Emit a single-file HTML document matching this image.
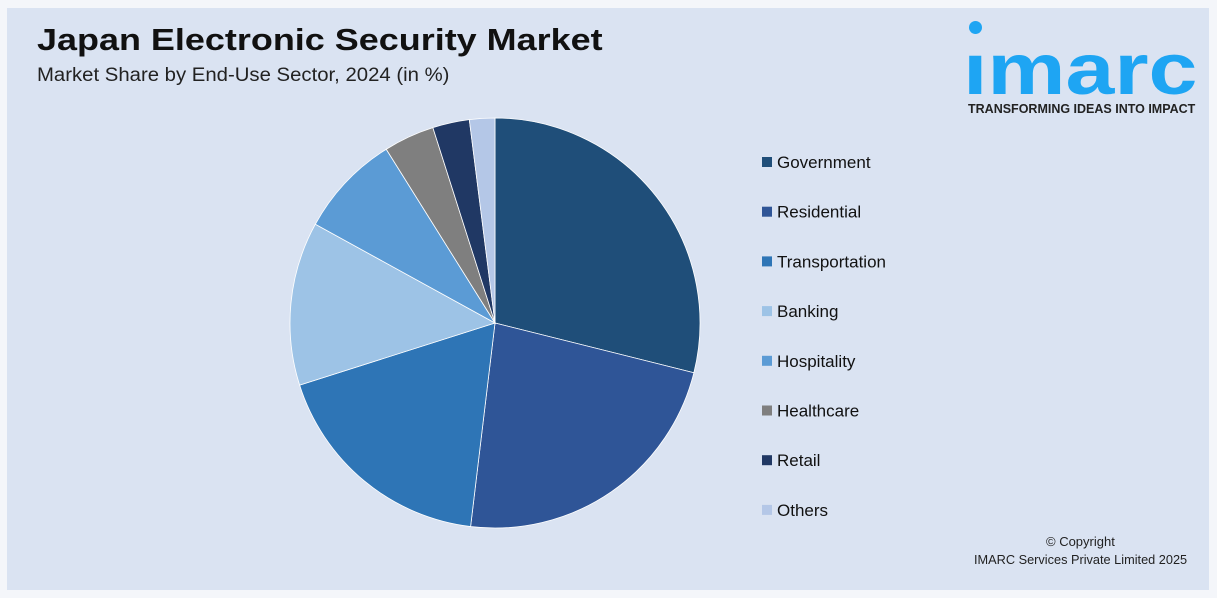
<!DOCTYPE html>
<html><head><meta charset="utf-8"><style>
body{margin:0;width:1217px;height:598px;background:#f4f6fa;font-family:"Liberation Sans",sans-serif;overflow:hidden}
#panel{position:absolute;left:7px;top:8px;width:1202px;height:582px;background:#dae3f2}
.t{position:absolute;color:#111;white-space:nowrap;transform-origin:0 0}
</style></head><body>
<div id="panel"></div>
<div class="t" style="left:37px;top:22px;font-size:31px;font-weight:bold;transform:scaleX(1.16)">Japan Electronic Security Market</div>
<div class="t" style="left:37px;top:65px;font-size:19px;color:#222;transform:scaleX(1.07)">Market Share by End-Use Sector, 2024 (in %)</div>
<div style="position:absolute;left:965px;top:16px;width:230px;height:105px">
<div style="position:absolute;left:4px;top:5px;width:13px;height:13px;border-radius:50%;background:#1ea5f3"></div>
<div style="position:absolute;left:-2px;top:22px;font-size:72px;font-weight:bold;color:#1ea5f3;line-height:64px;transform:scaleX(1.22);transform-origin:0 0">ımarc</div>
<div style="position:absolute;left:3px;top:86px;font-size:12.5px;font-weight:bold;color:#222;white-space:nowrap">TRANSFORMING IDEAS INTO IMPACT</div>
</div>
<svg id="pie" width="1217" height="598" style="position:absolute;left:0;top:0"></svg>
<div class="t" style="left:1046px;top:534px;font-size:13px;color:#222">© Copyright</div>
<div class="t" style="left:974px;top:552px;font-size:13px;color:#222;transform:scaleX(0.98)">IMARC Services Private Limited 2025</div>
<script>
const categories=["Government","Residential","Transportation","Banking","Hospitality","Healthcare","Retail","Others"];
const shares=[28.9,23.0,18.2,12.9,8.1,4.0,2.9,2.0];
const colors=["#1f4e79","#2f5597","#2e75b6","#9dc3e6","#5b9bd5","#7f7f7f","#203864","#b4c7e7"];
const NS="http://www.w3.org/2000/svg";
const svg=document.getElementById('pie');
const cx=495,cy=323,r=205;
const total=shares.reduce((a,b)=>a+b,0);
let acc=0;
function pt(f){const a=f*2*Math.PI;return [cx+r*Math.sin(a),cy-r*Math.cos(a)];}
shares.forEach((v,i)=>{
 const f0=acc/total,f1=(acc+v)/total;acc+=v;
 const [x0,y0]=pt(f0),[x1,y1]=pt(f1);
 const p=document.createElementNS(NS,'path');
 p.setAttribute('d',`M${cx},${cy}L${x0},${y0}A${r},${r} 0 ${f1-f0>0.5?1:0} 1 ${x1},${y1}Z`);
 p.setAttribute('fill',colors[i]);
 p.setAttribute('stroke','#fff');p.setAttribute('stroke-width','0.8');
 
 
 svg.appendChild(p);
 const y=162+i*49.7;
 const g=document.createElementNS(NS,'g');
 
 
 const s=document.createElementNS(NS,'rect');
 s.setAttribute('x',762);s.setAttribute('y',y-5);s.setAttribute('width',10);s.setAttribute('height',10);s.setAttribute('fill',colors[i]);
 const t=document.createElementNS(NS,'text');
 t.setAttribute('x',777);t.setAttribute('y',y+6);t.setAttribute('font-size','17');t.setAttribute('fill','#111');
 t.setAttribute('font-family','Liberation Sans, sans-serif');
 t.setAttribute('textLength',Math.round(t.textContent.length));
 t.removeAttribute('textLength');
 t.textContent=categories[i];
 g.appendChild(s);g.appendChild(t);svg.appendChild(g);
});
</script>
</body></html>
